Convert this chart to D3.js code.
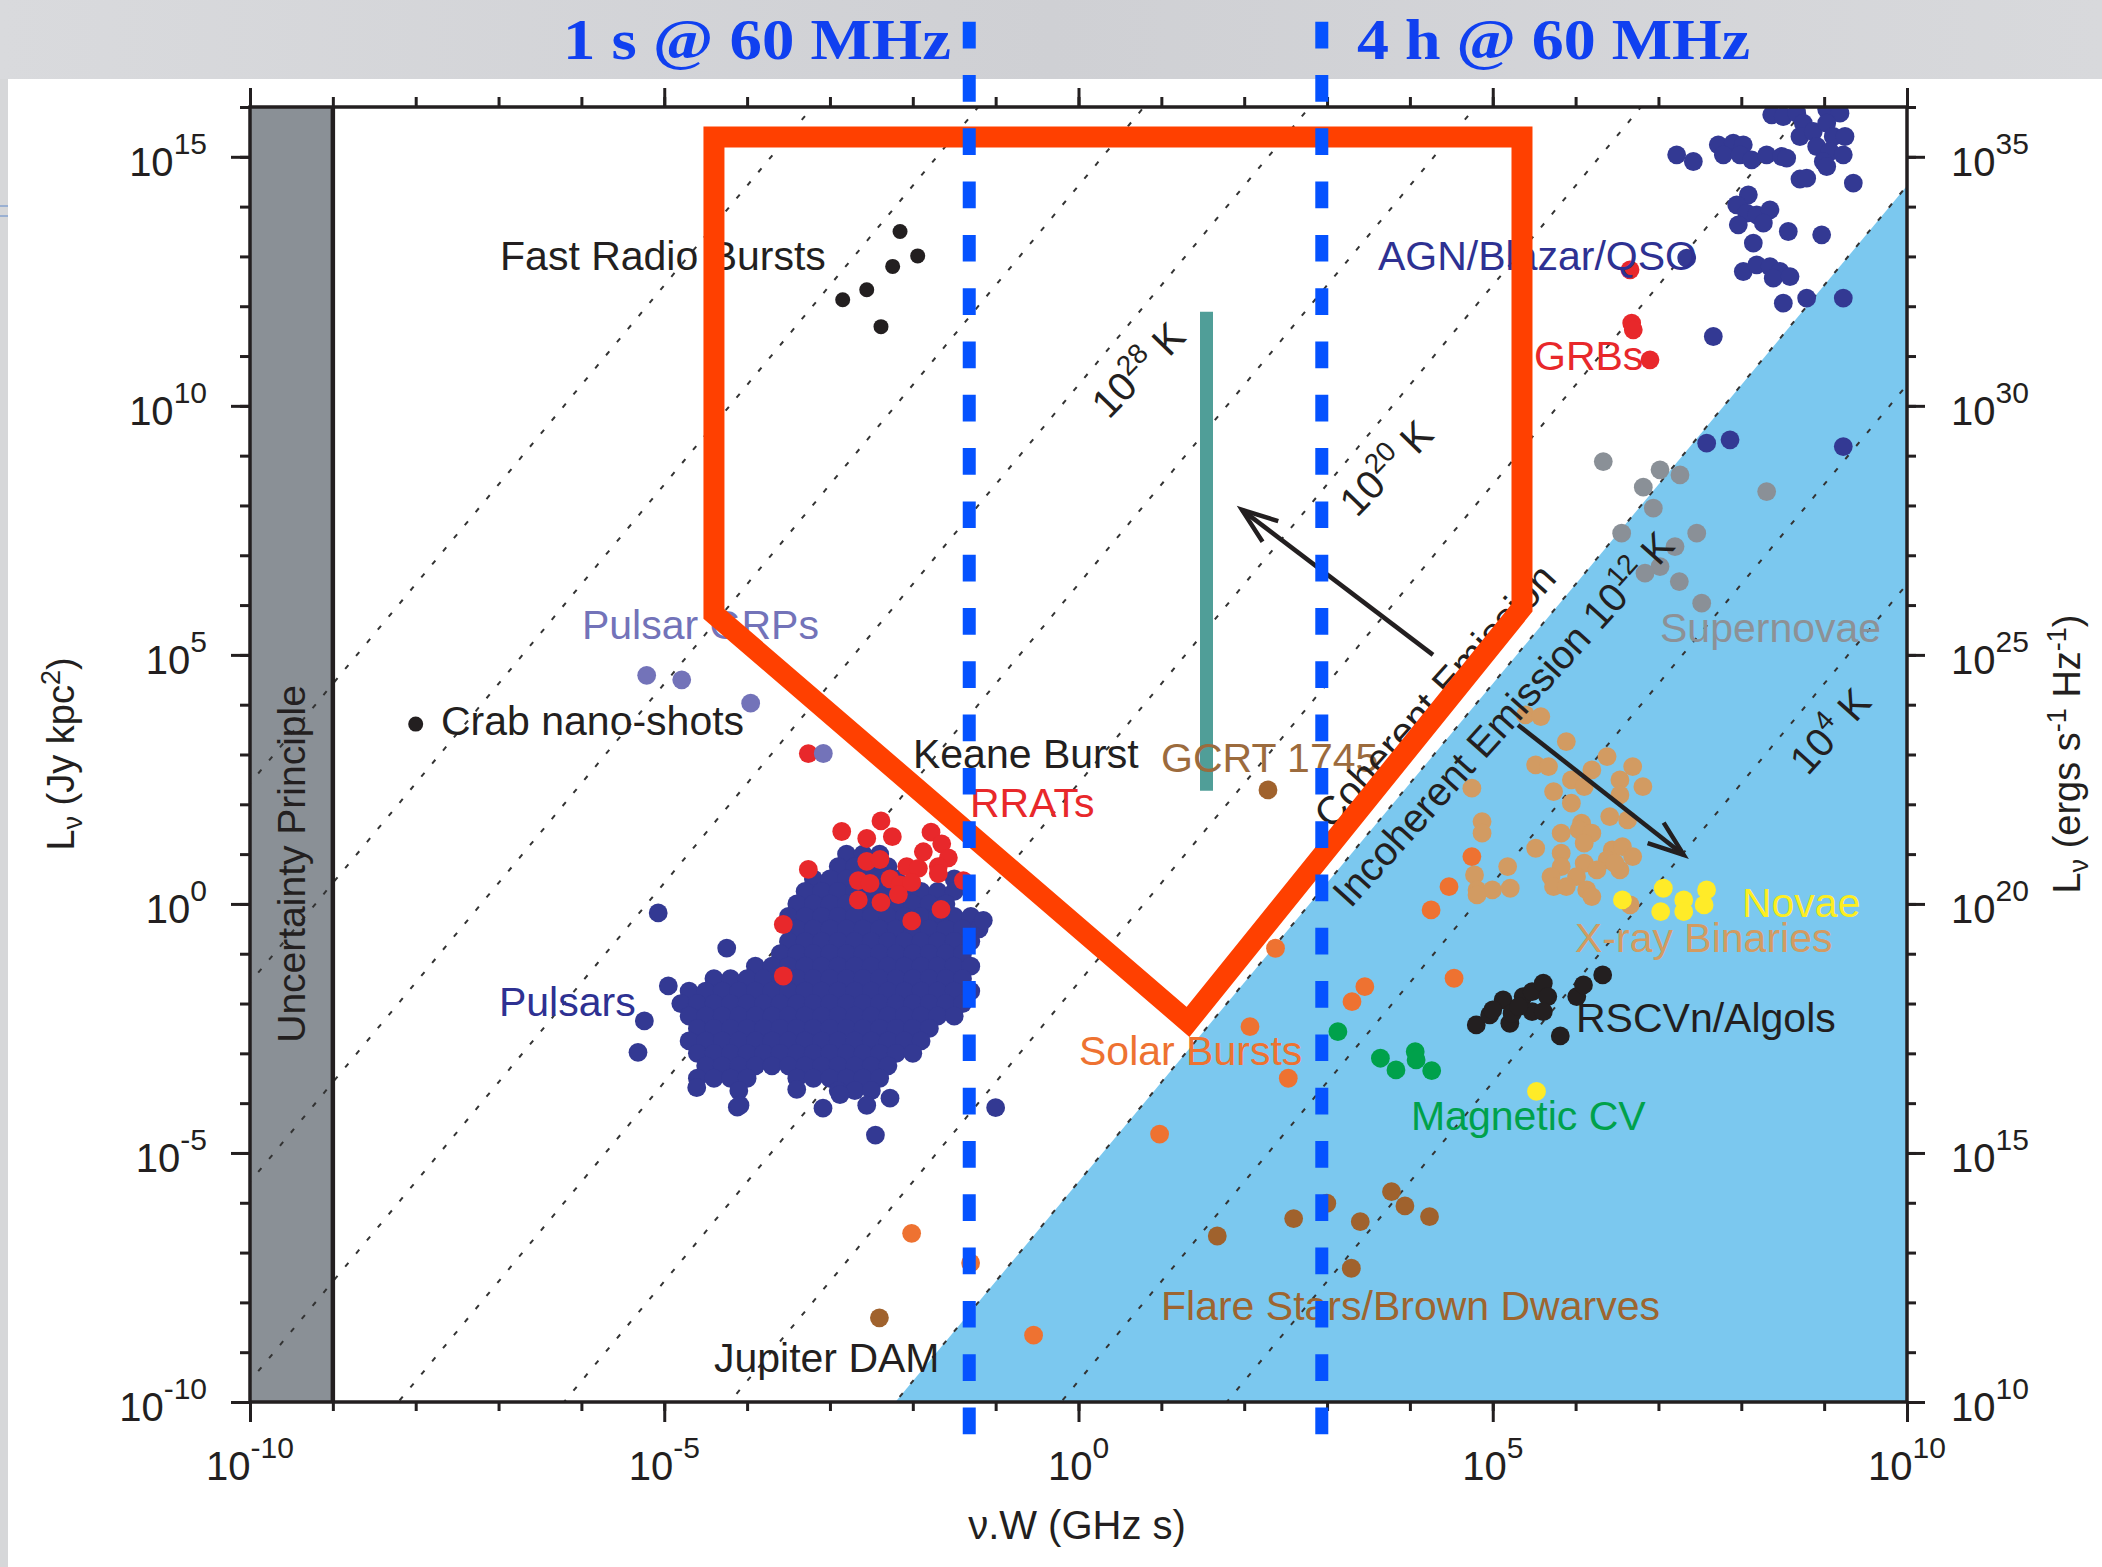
<!DOCTYPE html>
<html><head><meta charset="utf-8">
<script src="https://cdn.jsdelivr.net/npm/d3@7"></script>
<style>html,body{margin:0;padding:0;background:#fff;}svg{display:block;}</style>
</head><body>
<svg id="c" width="2102" height="1567"></svg>
<script>
// ---------------- DATA (log10 of ν.W [GHz s], log10 of L_ν [Jy kpc^2]) ----------------
const xTickExps = [-10,-9,-8,-7,-6,-5,-4,-3,-2,-1,0,1,2,3,4,5,6,7,8,9,10];
const yTickExps = [-10,-9,-8,-7,-6,-5,-4,-3,-2,-1,0,1,2,3,4,5,6,7,8,9,10,11,12,13,14,15,16];
const xLabelExps = [-10,-5,0,5,10];
const yLabelExps = [-10,-5,0,5,10,15];
const y2LabelExps = [10,15,20,25,30,35];
const tempLinesLogK = [4,8,12,16,20,24,28,32,36,40];
const logConst = -17.58;            // L = 10^logConst * T * (νW)^2
const incoherentLimitLogK = 12;
const uncertaintyLimit = [-10,-9];
const observingWindows = [0.048, 864];   // 1 s and 4 h at 60 MHz (GHz s)

const fastRadioBursts = [[-2.154,13.50],[-1.941,13.01],[-2.243,12.80],[-2.556,12.33],[-2.846,12.13],[-2.384,11.59]];
const crabNanoShots = [[-8.00,3.61]];
const pulsarGRPs = [[-5.212,4.59],[-4.789,4.50],[-3.957,4.03],[-3.080,3.02]];
const pulsarRows = [
 [1.0,[-2.8,-2.6,-2.4]],
 [0.75,[-2.9,-2.7,-2.5,-2.3]],
 [0.5,[-3.2,-3.0,-2.8,-2.6,-2.4,-2.2,-1.5]],
 [0.25,[-3.3,-3.1,-2.9,-2.7,-2.5,-2.3,-2.1,-1.9,-1.7,-1.5]],
 [0.0,[-3.4,-3.2,-3.0,-2.8,-2.6,-2.4,-2.2,-2.0,-1.8,-1.6]],
 [-0.25,[-3.5,-3.3,-3.1,-2.9,-2.7,-2.5,-2.3,-2.1,-1.9,-1.7,-1.5,-1.3]],
 [-0.5,[-3.4,-3.2,-3.0,-2.8,-2.6,-2.4,-2.2,-2.0,-1.8,-1.6,-1.4,-1.2]],
 [-0.75,[-3.5,-3.3,-3.1,-2.9,-2.7,-2.5,-2.3,-2.1,-1.9,-1.7,-1.5,-1.3]],
 [-1.0,[-3.6,-3.4,-3.2,-3.0,-2.8,-2.6,-2.4,-2.2,-2.0,-1.8,-1.6,-1.4]],
 [-1.25,[-3.9,-3.7,-3.5,-3.3,-3.1,-2.9,-2.7,-2.5,-2.3,-2.1,-1.9,-1.7,-1.5,-1.3]],
 [-1.5,[-4.4,-4.2,-4.0,-3.8,-3.6,-3.4,-3.2,-3.0,-2.8,-2.6,-2.4,-2.2,-2.0,-1.8,-1.6,-1.4]],
 [-1.75,[-4.7,-4.5,-4.3,-4.1,-3.9,-3.7,-3.5,-3.3,-3.1,-2.9,-2.7,-2.5,-2.3,-2.1,-1.9,-1.7,-1.5,-1.3]],
 [-2.0,[-4.8,-4.6,-4.4,-4.2,-4.0,-3.8,-3.6,-3.4,-3.2,-3.0,-2.8,-2.6,-2.4,-2.2,-2.0,-1.8,-1.6,-1.4]],
 [-2.25,[-4.7,-4.5,-4.3,-4.1,-3.9,-3.7,-3.5,-3.3,-3.1,-2.9,-2.7,-2.5,-2.3,-2.1,-1.9,-1.7,-1.5]],
 [-2.5,[-4.6,-4.4,-4.2,-4.0,-3.8,-3.6,-3.4,-3.2,-3.0,-2.8,-2.6,-2.4,-2.2,-2.0,-1.8]],
 [-2.75,[-4.7,-4.5,-4.3,-4.1,-3.9,-3.7,-3.5,-3.3,-3.1,-2.9,-2.7,-2.5,-2.3,-2.1,-1.9]],
 [-3.0,[-4.6,-4.4,-4.2,-4.0,-3.8,-3.6,-3.4,-3.2,-3.0,-2.8,-2.6,-2.4,-2.2,-2.0]],
 [-3.25,[-4.5,-4.3,-4.1,-3.9,-3.7,-3.5,-3.3,-3.1,-2.9,-2.7,-2.5,-2.3]],
 [-3.5,[-4.6,-4.4,-4.2,-4.0,-3.4,-3.2,-3.0,-2.8,-2.6,-2.4]],
 [-3.75,[-4.1,-2.9,-2.7,-2.5]]
];
const pulsarOutliers = [[-5.073,-0.18],[-5.24,-2.35],[-5.317,-2.98],[-4.951,-1.647],[-4.246,-0.887],
 [-4.118,-4.08],[-3.084,-4.10],[-2.451,-4.64],[-1.0,-4.09],[-1.149,-0.33],[-3.401,-3.725],[-2.879,-3.829],
 [-2.556,-4.042],[-2.275,-3.90],[-4.086,-4.042],[-4.608,-3.689]];
const rrats = [[-2.384,1.667],[-2.858,1.454],[-2.556,1.314],[-2.247,1.350],[-1.780,1.440],[-1.651,1.207],
 [-1.571,0.926],[-1.873,1.047],[-1.692,0.750],[-1.692,0.609],[-2.556,0.856],[-2.396,0.892],[-2.073,0.750],
 [-1.933,0.715],[-3.261,0.693],[-2.658,0.468],[-2.516,0.412],[-2.275,0.503],[-2.154,0.382],[-2.013,0.432],
 [-2.658,0.081],[-2.384,0.031],[-2.174,0.187],[-1.659,-0.110],[-2.013,-0.341],[-1.390,0.468],[-3.563,-0.413],
 [-3.563,-1.447],[-3.261,3.018]];
const agn = [[7.220,15.040],[7.421,14.906],[7.722,15.241],[7.903,15.275],[8.024,15.241],[7.783,15.040],
 [7.984,15.040],[8.125,14.940],[8.306,15.040],[8.488,15.006],[8.548,14.974],[8.367,15.843],[8.507,15.809],
 [8.669,15.877],[8.748,15.677],[8.708,15.408],[8.869,15.508],[9.031,15.952],[9.191,15.877],[9.031,15.677],
 [9.110,15.408],[9.252,15.408],[8.910,15.207],[9.071,15.107],[9.231,15.040],[8.990,14.906],[9.031,14.805],
 [8.708,14.554],[8.789,14.572],[9.352,14.472],[8.085,14.237],[7.944,14.036],[8.065,13.869],[7.964,13.635],
 [8.186,13.835],[8.346,13.936],[8.266,13.669],[8.567,13.500],[8.970,13.434],[8.145,13.267],[7.341,12.966],
 [8.024,12.697],[8.186,12.831],[8.346,12.797],[8.467,12.697],[8.386,12.564],[8.588,12.596],[8.507,12.062],
 [8.789,12.163],[9.231,12.163],[7.662,11.392],[7.582,9.251],[7.864,9.317],[9.231,9.183]];
const grbs = [[6.657,12.731],[6.677,11.661],[6.696,11.526],[6.898,10.924]];
const supernovae = [[6.334,8.882],[7.019,8.715],[7.260,8.614],[6.817,8.367],[6.938,7.946],[6.556,7.444],
 [7.462,7.444],[7.200,7.175],[7.019,6.773],[6.838,6.640],[7.252,6.472],[7.522,6.038],[8.306,8.279]];
const xrayBinaries = [[5.395,3.795],[5.580,3.761],[5.888,3.259],[6.380,2.958],[5.518,2.791],[5.673,2.757],
 [6.196,2.691],[6.689,2.757],[5.949,2.490],[6.535,2.490],[6.812,2.355],[5.734,2.255],[6.104,2.355],[4.748,2.323],
 [6.535,2.189],[5.949,2.022],[6.412,1.753],[6.628,1.687],[4.871,1.653],[6.072,1.620],[4.871,1.420],[5.826,1.420],
 [6.042,1.486],[6.196,1.420],[5.518,1.118],[6.104,1.219],[5.826,1.018],[6.442,1.084],[6.565,1.151],[6.689,0.950],
 [6.380,0.884],[5.180,0.749],[6.104,0.817],[5.826,0.749],[4.780,0.582],[6.535,0.683],[5.703,0.548],[6.011,0.548],
 [6.257,0.683],[5.734,0.347],[5.888,0.347],[4.810,0.281],[4.995,0.281],[5.211,0.315],[6.134,0.281],[6.196,0.147],
 [6.658,-0.020],[4.810,0.181],[6.473,0.817]];
const solarBursts = [[4.748,0.950],[4.472,0.347],[4.256,-0.120],[2.378,-0.890],[3.456,-1.661],[3.301,-1.962],
 [4.533,-1.492],[2.070,-2.464],[2.532,-3.500],[0.979,-4.620],[-2.014,-6.614],[-0.542,-8.659],[-1.302,-7.207]];
const novae = [[6.565,0.080],[7.059,0.315],[7.027,-0.155],[7.305,0.080],[7.305,-0.155],[7.581,0.281],[7.551,-0.020],[5.528,-3.765]];
const rscvnAlgols = [[4.801,-2.430],[4.963,-2.229],[5.125,-1.928],[5.206,-2.396],[5.234,-2.195],[5.367,-1.861],
 [5.475,-1.761],[5.610,-1.592],[5.664,-1.861],[5.475,-2.163],[5.610,-2.163],[6.014,-1.861],[6.095,-1.627],
 [6.327,-1.426],[5.815,-2.651],[5.000,-2.129],[5.314,-2.062]];
const magneticCV = [[3.131,-2.564],[3.644,-3.098],[3.832,-3.333],[4.064,-2.966],[4.075,-3.133],[4.263,-3.347]];
const flareStars = [[1.675,-6.667],[2.597,-6.317],[2.997,-6.010],[3.401,-6.380],[3.778,-5.777],[3.940,-6.064],[4.237,-6.279],[3.293,-7.315]];
const jupiterDAM = [[-2.403,-8.309]];
const gcrt1745 = [[2.287,2.289]];
const keaneBurstRange = [[1.545,2.27],[1.545,11.89]];
const searchRegion = [[-4.40,15.40],[5.353,15.40],[5.353,5.944],[1.322,-2.369],[-4.40,5.823]];
const arrows = [{tail:[4.279,5.0],tip:[1.973,7.912]},{tail:[5.305,3.594],tip:[7.305,0.984]}];

// ---------------- SETUP ----------------
const W=2102,H=1567;
const PL=250,PR=1907,PT=107,PB=1402;
const svg=d3.select('#c');
const x=d3.scaleLog().domain([1e-10,1e10]).range([PL,PR]);
const y=d3.scaleLog().domain([1e-10,1e16]).range([PB,PT]);
const y2=d3.scaleLog().domain([1e10,1e36]).range([PB,PT]);
const px=l=>x(Math.pow(10,l)), py=l=>y(Math.pow(10,l));
const FONT='"Liberation Sans", Arial, Helvetica, sans-serif';
const INK='#231f20';

const defs=svg.append('defs');
const gr=defs.append('linearGradient').attr('id','topg').attr('x1',0).attr('x2',1).attr('y1',0).attr('y2',0);
gr.append('stop').attr('offset','0').attr('stop-color','#d9dadd');
gr.append('stop').attr('offset','0.5').attr('stop-color','#cfd0d4');
gr.append('stop').attr('offset','1').attr('stop-color','#d8d9dc');
defs.append('clipPath').attr('id','plotclip').append('rect').attr('x',PL).attr('y',PT).attr('width',PR-PL).attr('height',PB-PT);

svg.append('rect').attr('width',W).attr('height',H).attr('fill','#fff');
svg.append('rect').attr('x',0).attr('y',0).attr('width',W).attr('height',79).attr('fill','url(#topg)');
svg.append('rect').attr('x',0).attr('y',79).attr('width',8).attr('height',H-79).attr('fill','#d6d7d9');
svg.append('line').attr('x1',0).attr('x2',8).attr('y1',206).attr('y2',206).attr('stroke','#86a3cf').attr('stroke-width',1.5);
svg.append('line').attr('x1',0).attr('x2',8).attr('y1',216).attr('y2',216).attr('stroke','#86a3cf').attr('stroke-width',1.5);

const plot=svg.append('g').attr('clip-path','url(#plotclip)');
const lineGen=()=>d3.line().x(d=>px(d[0])).y(d=>py(d[1]));

// incoherent region (below 10^12 K)
const xb=(-10-logConst-incoherentLimitLogK)/2;
plot.append('path').attr('d',lineGen().curve(d3.curveLinearClosed)([[xb,-10],[10,logConst+incoherentLimitLogK+20],[10,-10]]))
  .attr('fill','#7bc8ef');

// uncertainty principle region
plot.append('rect').attr('x',px(uncertaintyLimit[0])).attr('y',PT)
  .attr('width',px(uncertaintyLimit[1])-px(uncertaintyLimit[0])).attr('height',PB-PT).attr('fill','#8a9096');

// brightness temperature lines
tempLinesLogK.forEach(t=>{
  plot.append('path').attr('d',lineGen()([[-12,logConst+t-24],[12,logConst+t+24]]))
    .attr('stroke','#333').attr('stroke-width',2).attr('stroke-dasharray','5,12').attr('fill','none');
});

// Keane burst range
plot.append('path').attr('d',lineGen()(keaneBurstRange))
  .attr('stroke','#509e98').attr('stroke-width',13).attr('fill','none');

// uncertainty limit line
svg.append('line').attr('x1',px(uncertaintyLimit[1])).attr('x2',px(uncertaintyLimit[1])).attr('y1',PT).attr('y2',PB)
  .attr('stroke',INK).attr('stroke-width',4.5);

// ---------------- DOTS ----------------
const pulsars=[];
pulsarRows.forEach(([l,xs])=>xs.forEach(v=>pulsars.push([v,l])));
pulsarOutliers.forEach(p=>pulsars.push(p));
const R=9.4;
const groups=[
  {d:pulsars,c:'#333993',r:R},
  {d:rrats,c:'#e8282b',r:R},
  {d:pulsarGRPs,c:'#7373b9',r:R},
  {d:fastRadioBursts,c:INK,r:7.5},
  {d:crabNanoShots,c:INK,r:7.5},
  {d:supernovae,c:'#8a9097',r:R},
  {d:agn,c:'#333993',r:R},
  {d:grbs,c:'#e8282b',r:R},
  {d:xrayBinaries,c:'#d29b62',r:R},
  {d:solarBursts,c:'#ee7231',r:R},
  {d:novae,c:'#ffeb28',r:R},
  {d:rscvnAlgols,c:INK,r:R},
  {d:magneticCV,c:'#00a14b',r:R},
  {d:flareStars,c:'#a0622d',r:R},
  {d:jupiterDAM,c:'#a0622d',r:R},
  {d:gcrt1745,c:'#a0622d',r:R}
];
const dots=plot.append('g');
groups.forEach(g=>{
  dots.append('g').selectAll('circle').data(g.d).join('circle')
    .attr('cx',d=>px(d[0])).attr('cy',d=>py(d[1])).attr('r',g.r).attr('fill',g.c);
});

// ---------------- AXES ----------------
function ticks(gen,scale,vals,size,tr){
  const a=gen(scale).tickValues(vals.map(e=>Math.pow(10,e))).tickSize(size).tickFormat('');
  const gg=svg.append('g').attr('transform',tr).call(a);
  gg.select('.domain').remove();
  gg.selectAll('line').attr('stroke',INK).attr('stroke-width',3);
}
const yR2 = yTickExps.map(e=>e+20);
ticks(d3.axisBottom,x,xTickExps,9,`translate(0,${PB})`);
ticks(d3.axisBottom,x,xLabelExps,20,`translate(0,${PB})`);
ticks(d3.axisTop,x,xTickExps,10,`translate(0,${PT})`);
ticks(d3.axisTop,x,xLabelExps,19,`translate(0,${PT})`);
ticks(d3.axisLeft,y,yTickExps,10,`translate(${PL},0)`);
ticks(d3.axisLeft,y,yLabelExps,19,`translate(${PL},0)`);
ticks(d3.axisRight,y2,yR2,9,`translate(${PR},0)`);
ticks(d3.axisRight,y2,y2LabelExps,18,`translate(${PR},0)`);
svg.append('rect').attr('x',PL).attr('y',PT).attr('width',PR-PL).attr('height',PB-PT)
  .attr('fill','none').attr('stroke',INK).attr('stroke-width',3.5);

function powLabel(xp,yp,exp,anchor){
  const t=svg.append('text').attr('x',xp).attr('y',yp).attr('text-anchor',anchor)
    .attr('font-family',FONT).attr('font-size',40).attr('fill',INK);
  t.append('tspan').text('10');
  t.append('tspan').attr('dy',-22).attr('font-size',30).text(String(exp));
}
xLabelExps.forEach(e=>powLabel(x(Math.pow(10,e)),1480,e,'middle'));
yLabelExps.forEach(e=>powLabel(207,y(Math.pow(10,e))+19,e,'end'));
y2LabelExps.forEach(e=>powLabel(1951,y2(Math.pow(10,e))+19,e,'start'));

// axis titles
svg.append('text').attr('x',1077).attr('y',1539).attr('text-anchor','middle')
  .attr('font-family',FONT).attr('font-size',40).attr('fill',INK).text('ν.W (GHz s)');
const yt=svg.append('text').attr('transform','translate(74,754) rotate(-90)').attr('text-anchor','middle')
  .attr('font-family',FONT).attr('font-size',38).attr('fill',INK);
yt.append('tspan').text('L');
yt.append('tspan').attr('font-size',27).attr('dy',8).text('ν');
yt.append('tspan').attr('dy',-8).text(' (Jy kpc');
yt.append('tspan').attr('font-size',27).attr('dy',-14).text('2');
yt.append('tspan').attr('dy',14).text(')');
const y2t=svg.append('text').attr('transform','translate(2080,754) rotate(-90)').attr('text-anchor','middle')
  .attr('font-family',FONT).attr('font-size',38).attr('fill',INK);
y2t.append('tspan').text('L');
y2t.append('tspan').attr('font-size',27).attr('dy',8).text('ν');
y2t.append('tspan').attr('dy',-8).text(' (ergs s');
y2t.append('tspan').attr('font-size',27).attr('dy',-14).text('-1');
y2t.append('tspan').attr('dy',14).text(' Hz');
y2t.append('tspan').attr('font-size',27).attr('dy',-14).text('-1');
y2t.append('tspan').attr('dy',14).text(')');

// ---------------- LABELS ----------------
const labels=[
 {t:'Fast Radio Bursts',p:[-6.982,12.731],c:INK},
 {t:'AGN/Blazar/QSO',p:[3.615,12.731],c:'#2e3192'},
 {t:'GRBs',p:[5.498,10.723],c:'#e8282b'},
 {t:'Pulsar GRPs',p:[-5.993,5.321],c:'#7373b9'},
 {t:'Crab nano-shots',p:[-7.695,3.394],c:INK},
 {t:'Keane Burst',p:[-1.998,2.731],c:INK},
 {t:'GCRT 1745',p:[0.996,2.651],c:'#9c6b3d'},
 {t:'RRATs',p:[-1.310,1.747],c:'#e8282b'},
 {t:'Pulsars',p:[-6.995,-2.249],c:'#2e3192'},
 {t:'Solar Bursts',p:[0.006,-3.233],c:'#ee7231'},
 {t:'Supernovae',p:[7.019,5.261],c:'#8d9196'},
 {t:'Novae',p:[8.008,-0.261],c:'#fdee21'},
 {t:'X-ray Binaries',p:[5.993,-0.964],c:'#d29b62'},
 {t:'RSCVn/Algols',p:[6.005,-2.570],c:INK},
 {t:'Magnetic CV',p:[4.013,-4.538],c:'#00a14b'},
 {t:'Flare Stars/Brown Dwarves',p:[0.996,-8.353],c:'#9d6530'},
 {t:'Jupiter DAM',p:[-4.400,-9.398],c:INK}
];
const lg=svg.append('g');
labels.forEach(l=>{
  lg.append('text').attr('x',px(l.p[0])).attr('y',py(l.p[1])).attr('font-family',FONT)
    .attr('font-size',41).attr('fill',l.c).text(l.t);
});
lg.append('text').attr('transform',`translate(${px(-9.481)+12},${py(0.803)}) rotate(-90)`).attr('text-anchor','middle')
  .attr('font-family',FONT).attr('font-size',39).attr('fill',INK).text('Uncertainty Principle');

const tLabels=[
 {p:[0.718,10.723],parts:['10','28',' K'],a:-46},
 {p:[3.712,8.755],parts:['10','20',' K'],a:-46},
 {p:[9.071,3.474],parts:['10','4',' K'],a:-48},
 {p:[5.124,3.715],parts:['Incoherent Emission 10','12',' K'],a:-48},
 {p:[4.30,4.18],parts:['Coherent Emission'],a:-48}
];
tLabels.forEach(l=>{
  const t=lg.append('text').attr('transform',`translate(${px(l.p[0])},${py(l.p[1])}) rotate(${l.a})`)
    .attr('text-anchor','middle').attr('dy','0.35em').attr('font-family',FONT).attr('font-size',40).attr('fill',INK);
  t.append('tspan').text(l.parts[0]);
  if(l.parts.length>1){
    t.append('tspan').attr('font-size',28).attr('dy',-16).text(l.parts[1]);
    t.append('tspan').attr('dy',16).text(l.parts[2]);
  }
});

// arrows
arrows.forEach(a=>{
  const x0=px(a.tail[0]),y0=py(a.tail[1]),x1=px(a.tip[0]),y1=py(a.tip[1]);
  const ang=Math.atan2(y0-y1,x0-x1),L=38,h=20*Math.PI/180;
  svg.append('line').attr('x1',x0).attr('y1',y0).attr('x2',x1).attr('y2',y1).attr('stroke',INK).attr('stroke-width',4.5);
  svg.append('path').attr('d',`M${x1+L*Math.cos(ang+h)},${y1+L*Math.sin(ang+h)}L${x1},${y1}L${x1+L*Math.cos(ang-h)},${y1+L*Math.sin(ang-h)}`)
    .attr('fill','none').attr('stroke',INK).attr('stroke-width',4.5).attr('stroke-linejoin','miter');
});

// search region polygon
svg.append('path').attr('d',lineGen().curve(d3.curveLinearClosed)(searchRegion))
  .attr('fill','none').attr('stroke','#ff4000').attr('stroke-width',21).attr('stroke-linejoin','miter');

// observing window lines
observingWindows.forEach(v=>{
  svg.append('line').attr('x1',x(v)).attr('x2',x(v)).attr('y1',21.7).attr('y2',1435)
    .attr('stroke','#0552ff').attr('stroke-width',13).attr('stroke-dasharray','26.7,26.6');
});

// titles
svg.append('text').attr('x',563).attr('y',59).attr('font-family','"Liberation Serif", "Times New Roman", serif')
  .attr('font-weight','bold').attr('font-size',56).attr('fill','#1040f0')
  .attr('textLength',388).attr('lengthAdjust','spacingAndGlyphs').text('1 s @ 60 MHz');
svg.append('text').attr('x',1357).attr('y',59).attr('font-family','"Liberation Serif", "Times New Roman", serif')
  .attr('font-weight','bold').attr('font-size',56).attr('fill','#1040f0')
  .attr('textLength',393).attr('lengthAdjust','spacingAndGlyphs').text('4 h @ 60 MHz');
</script>
</body></html>
